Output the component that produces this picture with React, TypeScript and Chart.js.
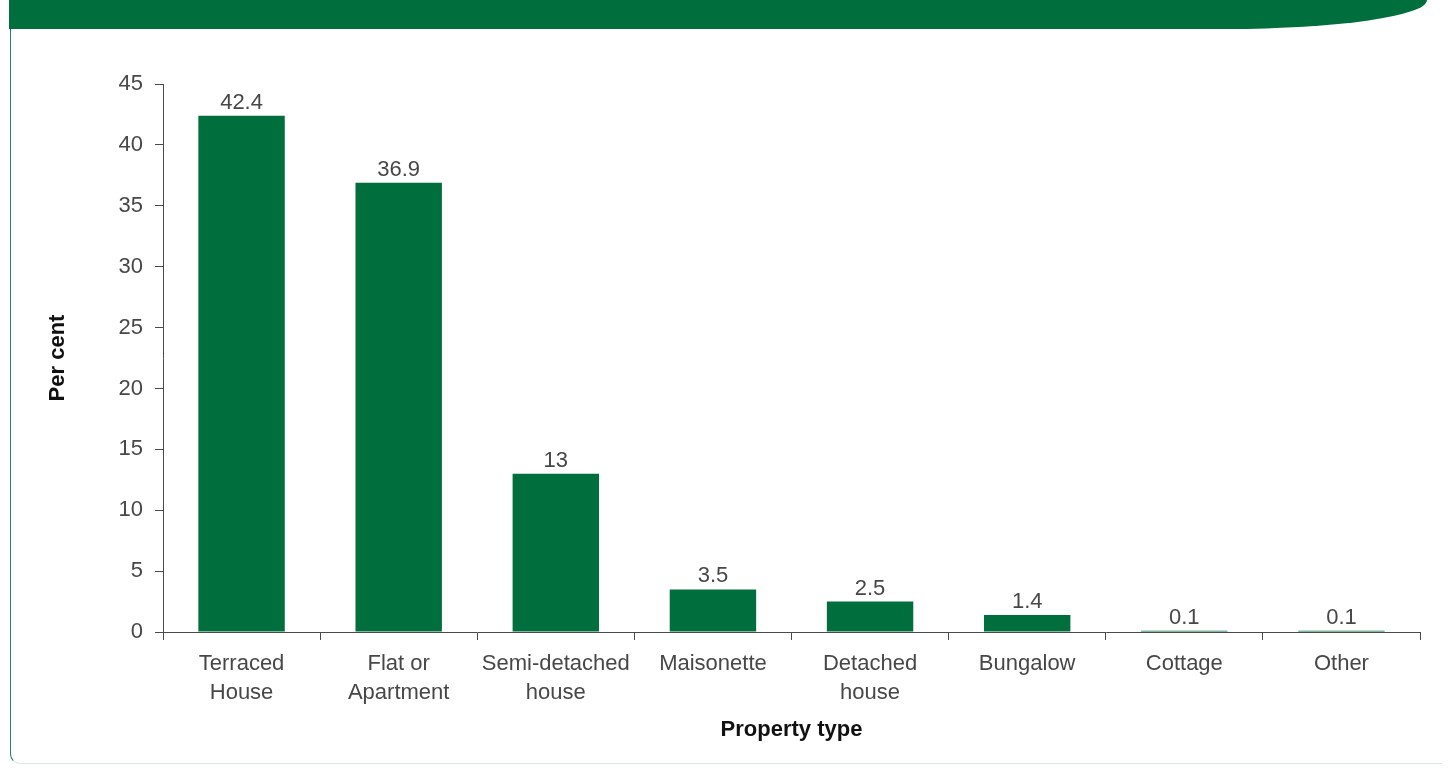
import React, { useEffect, useRef } from "react";
import { Chart, registerables } from "chart.js";

Chart.register(...registerables);

const categories: (string | string[])[] = [
  ["Terraced", "House"],
  ["Flat or", "Apartment"],
  ["Semi-detached", "house"],
  "Maisonette",
  ["Detached", "house"],
  "Bungalow",
  "Cottage",
  "Other",
];
const values: number[] = [42.4, 36.9, 13, 3.5, 2.5, 1.4, 0.1, 0.1];
const valueLabels: string[] = ["42.4", "36.9", "13", "3.5", "2.5", "1.4", "0.1", "0.1"];
const yTicks: number[] = [0, 5, 10, 15, 20, 25, 30, 35, 40, 45];
const yTitle = "Per cent";
const xTitle = "Property type";

const GREEN = "#016f3d";
const TEXT = "#474747";
const AXIS = "#4a4a4a";
const FONT = "'Liberation Sans', Arial, Helvetica, sans-serif";

const valueLabelPlugin = {
  id: "valueLabels",
  afterDatasetsDraw(chart: any) {
    const ctx = chart.ctx;
    const meta = chart.getDatasetMeta(0);
    ctx.save();
    ctx.font = `22px ${FONT}`;
    ctx.fillStyle = TEXT;
    ctx.textAlign = "center";
    ctx.textBaseline = "alphabetic";
    meta.data.forEach((bar: any, i: number) => {
      ctx.fillText(valueLabels[i], bar.x, bar.y - 7);
    });
    ctx.restore();
  },
};

export default function App() {
  const ref = useRef<HTMLCanvasElement | null>(null);

  useEffect(() => {
    if (!ref.current) return;
    const chart = new Chart(ref.current, {
      type: "bar",
      data: {
        labels: categories as any,
        datasets: [
          {
            data: values,
            backgroundColor: GREEN,
            borderWidth: 0,
            barPercentage: 0.55,
            categoryPercentage: 1,
          },
        ],
      },
      options: {
        animation: false,
        responsive: false,
        maintainAspectRatio: false,
        layout: { padding: { left: 45, right: 30, top: 84, bottom: 25 } },
        plugins: {
          legend: { display: false },
          tooltip: { enabled: false },
        },
        scales: {
          x: {
            offset: true,
            grid: {
              offset: true,
              drawOnChartArea: false,
              drawTicks: true,
              tickLength: 8,
              color: AXIS,
            },
            border: { display: true, color: AXIS, width: 1 },
            ticks: {
              color: TEXT,
              font: { family: FONT, size: 22, lineHeight: 1.32 },
              padding: 9,
              maxRotation: 0,
              autoSkip: false,
            },
            title: {
              display: true,
              text: xTitle,
              color: "#111",
              font: { family: FONT, size: 22, weight: "bold", lineHeight: 1.2 },
              padding: 0,
            },
            afterFit(scale: any) {
              scale.height = 111;
            },
          },
          y: {
            min: 0,
            max: 45,
            afterBuildTicks(scale: any) {
              scale.ticks = yTicks.map((v) => ({ value: v }));
            },
            grid: {
              drawOnChartArea: false,
              drawTicks: true,
              tickLength: 8,
              color: AXIS,
            },
            border: { display: true, color: AXIS, width: 1 },
            ticks: {
              color: TEXT,
              font: { family: FONT, size: 22 },
              padding: 12,
            },
            title: {
              display: true,
              text: yTitle,
              color: "#111",
              font: { family: FONT, size: 22, weight: "bold", lineHeight: 1.2 },
              padding: 0,
            },
            afterFit(scale: any) {
              scale.width = 118;
            },
          },
        },
      },
      plugins: [valueLabelPlugin],
    });
    return () => chart.destroy();
  }, []);

  return (
    <div
      style={{
        position: "fixed",
        left: 0,
        top: 0,
        width: 1450,
        height: 768,
        background: "#ffffff",
        overflow: "hidden",
      }}
    >
      <div
        style={{
          position: "absolute",
          left: 9,
          top: 0,
          width: 1418,
          height: 29,
          background: GREEN,
          borderBottomRightRadius: "200px 29px",
        }}
      />
      <div
        style={{
          position: "absolute",
          left: 10,
          top: 29,
          width: 1432,
          height: 735,
          borderLeft: "1.5px solid #2f7d5a",
          borderBottom: "1px solid #dbe9e2",
          borderBottomLeftRadius: 10,
          boxSizing: "border-box",
        }}
      />
      <canvas
        ref={ref}
        width={1450}
        height={768}
        style={{ position: "absolute", left: 0, top: 0, width: 1450, height: 768 }}
      />
    </div>
  );
}
